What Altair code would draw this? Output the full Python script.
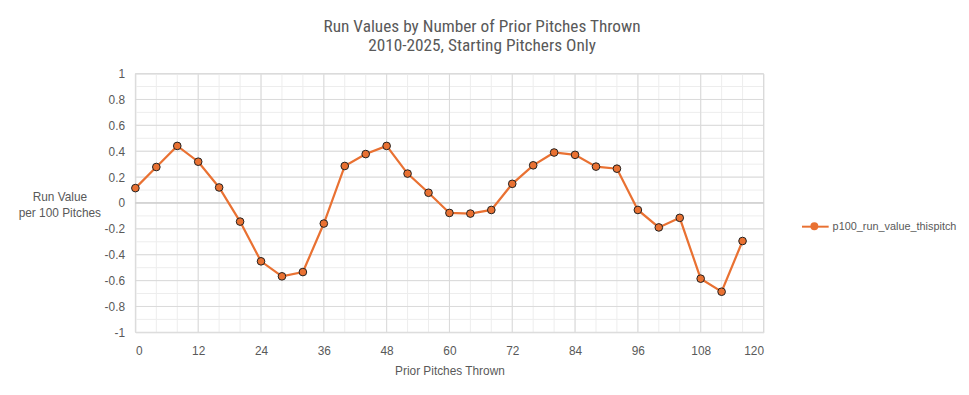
import altair as alt
import pandas as pd

pitches = list(range(0, 120, 4))
run_values = [0.115, 0.278, 0.441, 0.319, 0.12, -0.144, -0.451, -0.567, -0.534, -0.159,
              0.286, 0.378, 0.441, 0.227, 0.079, -0.077, -0.082, -0.054, 0.148, 0.291,
              0.39, 0.372, 0.281, 0.265, -0.054, -0.189, -0.115, -0.585, -0.686, -0.294]
series_name = "p100_run_value_thispitch"

x_major = list(range(0, 121, 12))
x_minor = list(range(0, 121, 4))
y_major = [-1, -0.8, -0.6, -0.4, -0.2, 0, 0.2, 0.4, 0.6, 0.8, 1]
y_minor = [round(-1 + 0.1 * i, 1) for i in range(21)]

df = pd.DataFrame({"x": pitches, "y": run_values, "series": series_name, "marker": "pt"})

ORANGE = "#E97132"
TXT = "#595959"
FONT = "Liberation Sans Narrow, Roboto Condensed, Arial Narrow, sans-serif"
FONT2 = "Liberation Sans, Arial, sans-serif"
MAJOR = "#D9D9D9"
MINOR = "#EDEDED"

xscale = alt.Scale(domain=[0, 120], nice=False, zero=False)
yscale = alt.Scale(domain=[-1, 1], nice=False, zero=False)

x_axis = alt.Axis(
    values=x_major,
    grid=False,
    ticks=False,
    domain=False,
    labelPadding=13,
    labelFontSize=12,
    labelColor=TXT,
    labelFont=FONT2,
    labelOverlap=False,
    title="Prior Pitches Thrown",
    titleFontSize=12,
    titleColor=TXT,
    titleFont=FONT2,
    titleFontWeight="normal",
    titlePadding=10,
)

y_axis = alt.Axis(
    values=y_major,
    labelExpr="'' + datum.value",
    grid=False,
    ticks=False,
    domain=False,
    labelPadding=11,
    labelFontSize=12,
    labelColor=TXT,
    labelFont=FONT2,
    labelOverlap=False,
    title=["Run Value", "per 100 Pitches"],
    titleAngle=0,
    titleAlign="center",
    titleBaseline="middle",
    titleX=-77,
    titleY=125,
    titleFontSize=12,
    titleColor=TXT,
    titleFont=FONT2,
    titleFontWeight="normal",
    titleLineHeight=16,
)


def X(field):
    return alt.X(field, type="quantitative", scale=xscale, axis=x_axis)


def Y(field):
    return alt.Y(field, type="quantitative", scale=yscale, axis=y_axis)


vminor = alt.Chart(pd.DataFrame({"x": x_minor})).mark_rule(color=MINOR, strokeWidth=1).encode(x=X("x"))
hminor = alt.Chart(pd.DataFrame({"y": y_minor})).mark_rule(color=MINOR, strokeWidth=1).encode(y=Y("y"))
vmajor = alt.Chart(pd.DataFrame({"x": x_major})).mark_rule(color=MAJOR, strokeWidth=1).encode(x=X("x"))
hmajor = alt.Chart(pd.DataFrame({"y": y_major})).mark_rule(color=MAJOR, strokeWidth=1).encode(y=Y("y"))
hzero = alt.Chart(pd.DataFrame({"y": [0]})).mark_rule(color="#C4C4C4", strokeWidth=1).encode(y=Y("y"))

line = alt.Chart(df).mark_line(strokeWidth=2.25).encode(
    x=X("x"),
    y=Y("y"),
    color=alt.Color(
        "series:N",
        scale=alt.Scale(domain=[series_name], range=[ORANGE]),
        legend=alt.Legend(
            title=None,
            orient="none",
            legendX=674,
            legendY=140.5,
            symbolType="stroke",
            symbolSize=729,
            symbolStrokeWidth=2,
            labelFontSize=11,
            labelColor=TXT,
            labelFont=FONT2,
            labelOffset=3,
            padding=0,
        ),
    ),
)

points = alt.Chart(df).mark_point(
    filled=True, size=60, fill=ORANGE, stroke="#1F1F1F", strokeWidth=1, opacity=1
).encode(
    x=X("x"),
    y=Y("y"),
    shape=alt.Shape(
        "marker:N",
        scale=alt.Scale(domain=["pt"], range=["circle"]),
        legend=alt.Legend(
            title=None,
            orient="none",
            legendX=683,
            legendY=150,
            symbolSize=64,
            symbolFillColor=ORANGE,
            symbolStrokeColor="#1F1F1F",
            symbolStrokeWidth=1,
            symbolOpacity=1,
            labelExpr="''",
            labelFontSize=1,
            padding=0,
        ),
    ),
)

chart = (
    alt.layer(vminor, hminor, vmajor, hmajor, hzero, line, points)
    .properties(
        width=636,
        height=262,
        autosize=alt.AutoSizeParams(type="none"),
        padding={"left": 129, "top": 64, "right": 200, "bottom": 60},
        title=alt.TitleParams(
            text=["Run Values by Number of Prior Pitches Thrown", "2010-2025, Starting Pitchers Only"],
            fontSize=17.5,
            font=FONT,
            color=TXT,
            fontWeight="normal",
            anchor="middle",
            frame="group",
            dx=33,
            offset=13,
            lineHeight=20,
        ),
    )
    .configure_view(stroke=None)
    .configure(background="white")
)

chart.save("out.html", embed_options={"renderer": "svg", "actions": False})
